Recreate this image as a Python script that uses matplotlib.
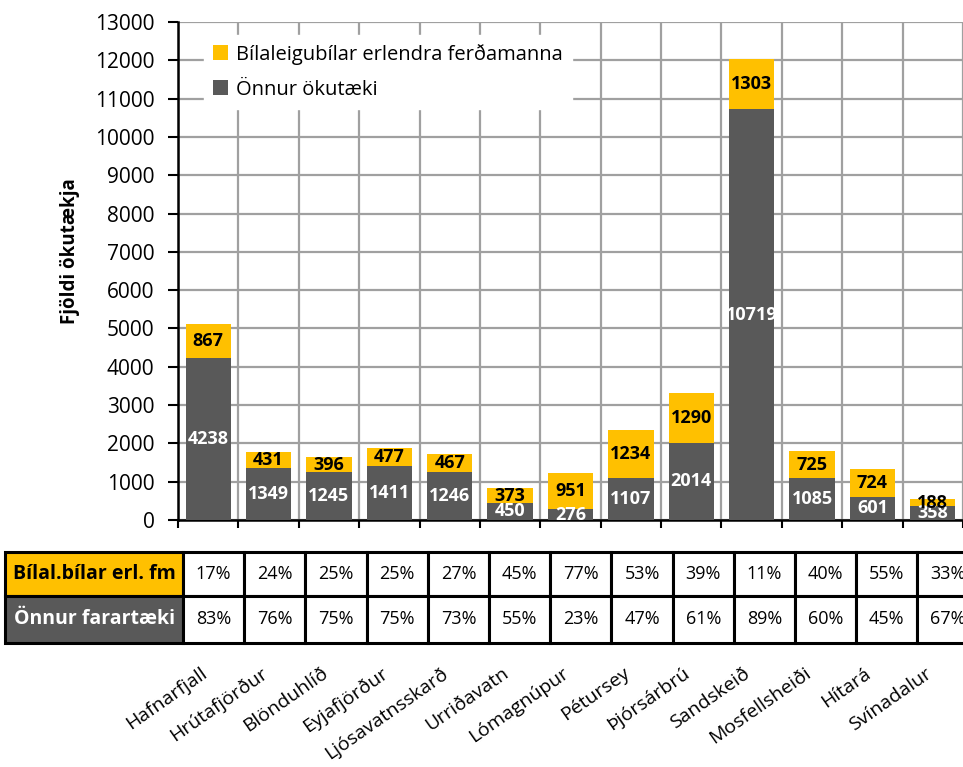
import matplotlib.pyplot as plt
from matplotlib.patches import Rectangle
from matplotlib.ticker import FixedLocator

plt.rcParams['font.family'] = ['Open Sans', 'DejaVu Sans']

stations = ['Hafnarfjall', 'Hrútafjörður', 'Blönduhlíð', 'Eyjafjörður', 'Ljósavatnsskarð',
            'Urriðavatn', 'Lómagnúpur', 'Pétursey', 'Þjórsárbrú', 'Sandskeið',
            'Mosfellsheiði', 'Hítará', 'Svínadalur']
other_vehicles = [4238, 1349, 1245, 1411, 1246, 450, 276, 1107, 2014, 10719, 1085, 601, 358]
rental_cars = [867, 431, 396, 477, 467, 373, 951, 1234, 1290, 1303, 725, 724, 188]
rental_pct = ['17%', '24%', '25%', '25%', '27%', '45%', '77%', '53%', '39%', '11%', '40%', '55%', '33%']
other_pct = ['83%', '76%', '75%', '75%', '73%', '55%', '23%', '47%', '61%', '89%', '60%', '45%', '67%']

YELLOW = '#FFC000'
DARK = '#595959'
GRID = '#A0A0A0'

W, H = 963, 767
fig = plt.figure(figsize=(W / 100, H / 100), dpi=100)

# main chart area in pixel terms
left, right, top, bottom = 178, 963, 22, 520
ax = fig.add_axes([left / W, 1 - bottom / H, (right - left) / W, (bottom - top) / H])

x = list(range(len(stations)))
ax.bar(x, other_vehicles, width=0.75, color=DARK, label='Önnur ökutæki', zorder=3)
ax.bar(x, rental_cars, width=0.75, bottom=other_vehicles, color=YELLOW,
       label='Bílaleigubílar erlendra ferðamanna', zorder=3)

for i in x:
    ax.text(i, other_vehicles[i] / 2, str(other_vehicles[i]), ha='center', va='center',
            color='white', fontsize=13, fontweight='bold', zorder=4, clip_on=True)
    ax.text(i, other_vehicles[i] + rental_cars[i] / 2, str(rental_cars[i]), ha='center',
            va='center', color='black', fontsize=13, fontweight='bold', zorder=4, clip_on=True)

ax.set_xlim(-0.5, len(stations) - 0.5)
ax.set_ylim(0, 13000)
ax.set_yticks(range(0, 13001, 1000))
ax.tick_params(axis='y', labelsize=15, length=7, width=1.5, direction='out', pad=10)

ax.set_xticks(x)
ax.set_xticklabels([])
ax.xaxis.set_minor_locator(FixedLocator([i - 0.5 for i in range(len(stations) + 1)]))
ax.tick_params(axis='x', which='major', length=0)
ax.tick_params(axis='x', which='minor', length=6, width=1.5, direction='out')

ax.grid(axis='y', which='major', color=GRID, linewidth=1.6, zorder=0)
ax.grid(axis='x', which='minor', color=GRID, linewidth=1.6, zorder=0)
for side in ['top', 'right']:
    ax.spines[side].set_visible(False)
ax.spines['left'].set_linewidth(1.8)
ax.spines['bottom'].set_linewidth(1.8)

ax.set_ylabel('Fjöldi ökutækja', fontsize=13.5, fontweight='bold')
ax.yaxis.set_label_coords(-0.125, 0.54)

handles, labels = ax.get_legend_handles_labels()
leg = ax.legend(handles[::-1], labels[::-1], loc='upper left', bbox_to_anchor=(0.02, 0.995),
                fontsize=14.5, frameon=True, fancybox=False, handlelength=0.75,
                handleheight=0.75, handletextpad=0.4, labelspacing=0.75, borderpad=0.45)
leg.get_frame().set_edgecolor('white')
leg.get_frame().set_facecolor('white')
leg.get_frame().set_alpha(1)

# station names, rotated under the table
for i in x:
    ax.annotate(stations[i], xy=(i, 0), xycoords=('data', 'axes fraction'),
                xytext=(-6, -(664 - bottom) * 0.72), textcoords='offset points',
                rotation=35, rotation_mode='anchor', ha='right', va='top',
                fontsize=14, annotation_clip=False)

# percentage table drawn in pixel coordinates
tab = fig.add_axes([0, 0, 1, 1])
tab.set_xlim(0, W)
tab.set_ylim(H, 0)
tab.axis('off')

t_left, label_w, col_w = 5, 178, 61.2
rows = [(552, 596, 'Bílal.bílar erl. fm', YELLOW, 'black', rental_pct),
        (596, 643, 'Önnur farartæki', DARK, 'white', other_pct)]
for y0, y1, name, face, txt_color, values in rows:
    tab.add_patch(Rectangle((t_left, y0), label_w, y1 - y0, facecolor=face,
                            edgecolor='black', linewidth=2.2))
    tab.text(t_left + label_w / 2, (y0 + y1) / 2, name, ha='center', va='center',
             fontsize=14, fontweight='bold', color=txt_color)
    for j, val in enumerate(values):
        cx = t_left + label_w + j * col_w
        tab.add_patch(Rectangle((cx, y0), col_w, y1 - y0, facecolor='white',
                                edgecolor='black', linewidth=2.2))
        tab.text(cx + col_w / 2, (y0 + y1) / 2, val, ha='center', va='center', fontsize=13)

fig.savefig('out.png', dpi=100)
